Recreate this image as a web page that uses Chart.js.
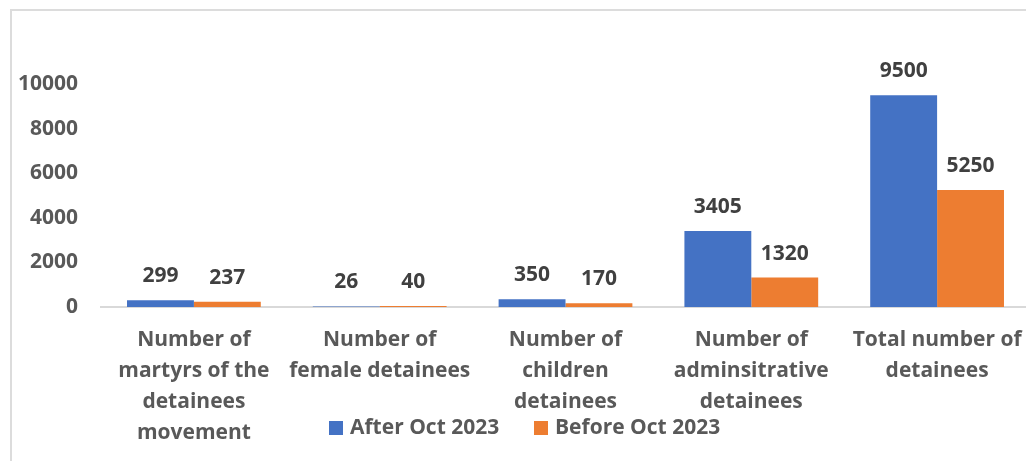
<!DOCTYPE html>
<html>
<head>
    <title>Detainees</title>
    <script src="https://cdn.jsdelivr.net/npm/chart.js"></script>
    <style>
      body { margin: 0; overflow: hidden; background: #fff; }
      #frame { position: absolute; left: 10px; top: 9px; width: 1100px; height: 500px;
               border-top: 2px solid #dcdcdc; border-left: 2px solid #dcdcdc; }
      #wrap { position: absolute; left: 0; top: 0; width: 1040px; height: 461px; }
      .lg { position: absolute; top: 412px; font: bold 21px "Open Sans", sans-serif; color: #595959; white-space: nowrap; }
      .lg i { display: inline-block; width: 14px; height: 14px; margin-right: 7px; vertical-align: -1px; }
    </style>
</head>
<body>
<div id="frame"></div>
<div id="wrap"><canvas id="chart"></canvas></div>
<div class="lg" style="left:329px"><i style="background:#4472C4"></i>After Oct 2023</div>
<div class="lg" style="left:534px"><i style="background:#ED7D31"></i>Before Oct 2023</div>

<script>
    // data
    const categories = [
      ['Number of', 'martyrs of the', 'detainees', 'movement'],
      ['Number of', 'female detainees'],
      ['Number of', 'children', 'detainees'],
      ['Number of', 'adminsitrative', 'detainees'],
      ['Total number of', 'detainees']
    ];
    const afterOct = [299, 26, 350, 3405, 9500];
    const beforeOct = [237, 40, 170, 1320, 5250];
    const yTicks = [0, 2000, 4000, 6000, 8000, 10000];

    const FONT = 'Open Sans';

    // value labels above each bar
    const valueLabels = {
      id: 'valueLabels',
      afterDatasetsDraw(chart) {
        const ctx = chart.ctx;
        ctx.save();
        ctx.font = 'bold 21px "' + FONT + '", sans-serif';
        ctx.fillStyle = '#404040';
        ctx.textAlign = 'center';
        ctx.textBaseline = 'middle';
        chart.data.datasets.forEach((ds, i) => {
          chart.getDatasetMeta(i).data.forEach((bar, j) => {
            ctx.fillText(ds.data[j], bar.x, bar.y - 24);
          });
        });
        ctx.restore();
      }
    };

    new Chart(document.getElementById('chart'), {
      type: 'bar',
      data: {
        labels: categories,
        datasets: [
          { label: 'After Oct 2023', data: afterOct, backgroundColor: '#4472C4' },
          { label: 'Before Oct 2023', data: beforeOct, backgroundColor: '#ED7D31' }
        ]
      },
      options: {
        responsive: true,
        maintainAspectRatio: false,
        animation: false,
        categoryPercentage: 0.72,
        barPercentage: 1,
        layout: { padding: { top: 84, left: 0, right: 10, bottom: 0 } },
        plugins: { legend: { display: false }, tooltip: { enabled: false } },
        scales: {
          x: {
            grid: { display: false, drawTicks: false },
            border: { display: true, color: '#d9d9d9', width: 2 },
            ticks: {
              color: '#595959', padding: 17, maxRotation: 0, autoSkip: false,
              font: { family: FONT, size: 21, weight: 'bold', lineHeight: 1.48 }
            },
            afterFit: s => { s.height = 154; }
          },
          y: {
            min: 0, max: 10000,
            afterBuildTicks: s => { s.ticks = yTicks.map(v => ({ value: v })); },
            grid: { display: false, drawTicks: false },
            border: { display: false },
            ticks: {
              color: '#595959', padding: 23,
              callback: v => String(v),
              font: { family: FONT, size: 21, weight: 'bold' }
            },
            afterFit: s => { s.width = 101; }
          }
        }
      },
      plugins: [valueLabels]
    });
</script>
</body>
</html>
